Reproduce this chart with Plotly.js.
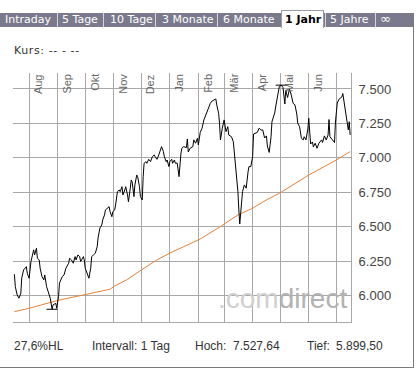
<!DOCTYPE html>
<html>
<head>
<meta charset="utf-8">
<script src="https://cdn.plot.ly/plotly-3.0.1.min.js"></script>
<style>
  body { margin: 0; background: #fff; }
  #wrap { position: relative; width: 418px; height: 370px; overflow: hidden; background: #fff; }
  #chart { position: absolute; left: 0; top: 0; width: 418px; height: 370px; z-index: 1; }
  .o { position: absolute; z-index: 5; white-space: pre; }
  .tabbar { left: 0; top: 13px; width: 414px; height: 14px; background: #7a7a8c; }
  .tab { top: 13px; height: 14px; line-height: 14px; font-family: "DejaVu Sans", sans-serif; font-size: 11px; color: #fff; }
  .sep { top: 13px; width: 1px; height: 14px; background: #d6d6de; }
  .sel { left: 281px; top: 10px; width: 43px; height: 18px; box-sizing: border-box; background: #fff;
         border: 1px solid #9a9aa8; border-bottom: none; }
  .txt { font-family: "Liberation Sans", Arial, sans-serif; font-size: 12px; line-height: 14px; color: #333; }
</style>
</head>
<body>
<div id="wrap">
  <div id="chart"></div>
</div>
<script>
// ---------- data ----------
const datum = [
 '2010-07-16','2010-07-17','2010-07-19','2010-07-21','2010-07-23','2010-07-24','2010-07-26','2010-07-29','2010-07-30',
 '2010-08-01','2010-08-03','2010-08-04','2010-08-06','2010-08-07','2010-08-09','2010-08-10','2010-08-12','2010-08-13',
 '2010-08-15','2010-08-17','2010-08-18','2010-08-20','2010-08-22','2010-08-24','2010-08-26','2010-08-27','2010-08-30','2010-08-31',
 '2010-09-02','2010-09-03','2010-09-06','2010-09-08','2010-09-10','2010-09-13','2010-09-14','2010-09-16','2010-09-18',
 '2010-09-20','2010-09-21','2010-09-23','2010-09-25','2010-09-26','2010-09-29','2010-09-30',
 '2010-10-01','2010-10-04','2010-10-05','2010-10-07','2010-10-08','2010-10-10','2010-10-12','2010-10-14','2010-10-15',
 '2010-10-17','2010-10-19','2010-10-20','2010-10-22','2010-10-23','2010-10-25','2010-10-27','2010-10-28','2010-10-30','2010-10-31',
 '2010-11-02','2010-11-03','2010-11-04','2010-11-05','2010-11-07','2010-11-08','2010-11-10','2010-11-11','2010-11-13',
 '2010-11-14','2010-11-16','2010-11-17','2010-11-19','2010-11-20','2010-11-21','2010-11-23','2010-11-24','2010-11-26',
 '2010-11-27','2010-11-29','2010-11-30',
 '2010-12-02','2010-12-03','2010-12-04','2010-12-06','2010-12-07','2010-12-09','2010-12-11','2010-12-13','2010-12-15',
 '2010-12-16','2010-12-18','2010-12-20','2010-12-22','2010-12-23','2010-12-25','2010-12-26','2010-12-28','2010-12-29','2010-12-31',
 '2011-01-01','2011-01-03','2011-01-04','2011-01-06','2011-01-07','2011-01-09','2011-01-11','2011-01-13','2011-01-14',
 '2011-01-16','2011-01-19','2011-01-20','2011-01-21','2011-01-23','2011-01-26','2011-01-27','2011-01-29','2011-01-31',
 '2011-02-01','2011-02-03','2011-02-05','2011-02-07','2011-02-10','2011-02-12','2011-02-14','2011-02-16','2011-02-19',
 '2011-02-20','2011-02-21','2011-02-23','2011-02-24','2011-02-25','2011-02-27','2011-02-28',
 '2011-03-01','2011-03-03','2011-03-05','2011-03-06','2011-03-09','2011-03-11','2011-03-12','2011-03-14','2011-03-15',
 '2011-03-16','2011-03-17','2011-03-18','2011-03-19','2011-03-20','2011-03-21','2011-03-23','2011-03-25','2011-03-27',
 '2011-03-28','2011-03-30',
 '2011-04-01','2011-04-02','2011-04-04','2011-04-06','2011-04-08','2011-04-10','2011-04-12','2011-04-14','2011-04-16',
 '2011-04-17','2011-04-19','2011-04-21','2011-04-22','2011-04-25','2011-04-26','2011-04-28','2011-04-30',
 '2011-05-02','2011-05-04','2011-05-06','2011-05-07','2011-05-09','2011-05-11','2011-05-13','2011-05-15','2011-05-17',
 '2011-05-19','2011-05-20','2011-05-22','2011-05-24','2011-05-26','2011-05-27','2011-05-29','2011-05-31',
 '2011-06-01','2011-06-03','2011-06-05','2011-06-06','2011-06-08','2011-06-10','2011-06-12','2011-06-15','2011-06-16',
 '2011-06-18','2011-06-20','2011-06-22','2011-06-23','2011-06-24','2011-06-27','2011-06-29','2011-06-30',
 '2011-07-02','2011-07-04','2011-07-07','2011-07-08','2011-07-10','2011-07-12','2011-07-14','2011-07-15','2011-07-16'
];
const kurs = [
 6154,6064,6004,5980,6016,6127,6185,6209,6161,
 6125,6246,6282,6331,6294,6343,6270,6258,6198,
 6137,6113,6149,6064,6028,5980,5899.5,5931,5943,5907,
 5991,6089,6137,6149,6198,6234,6270,6258,6234,
 6282,6258,6294,6282,6246,6282,6258,
 6198,6149,6125,6198,6282,6294,6307,6354,6418,
 6490,6512,6548,6585,6621,6633,6645,6609,6572,6609,
 6621,6657,6694,6754,6766,6754,6790,6730,6766,
 6790,6730,6681,6779,6839,6827,6718,6803,6875,
 6863,6790,6718,
 6694,6863,6960,6972,6960,6989,6972,7008,7021,
 7008,6989,7021,7069,7081,7045,7008,6972,6984,6936,
 6972,6989,6960,6984,6960,6962,6863,7028,7069,
 7081,7074,7137,7042,7069,7081,7130,7106,7142,
 7093,7184,7215,7275,7333,7360,7396,7413,7420,
 7427,7384,7323,7251,7130,7215,7262,
 7275,7190,7226,7166,7153,7117,7045,6948,6851,
 6754,6621,6519,6597,6657,6754,6803,6779,6897,
 6936,6936,
 7008,7173,7178,7184,7215,7202,7202,7144,7159,
 7086,7039,7153,7262,7326,7369,7442,7518,
 7527.64,7511,7391,7489,7438,7500,7456,7396,7384,
 7318,7251,7226,7142,7130,7153,7130,7209,
 7287,7100,7115,7079,7106,7069,7106,7130,7111,
 7159,7130,7166,7278,7153,7126,7111,7260,
 7398,7427,7442,7467,7380,7271,7202,7262,7166
];
// 200-Tage-Linie
const gdDatum = ['2010-07-16','2010-08-01','2010-09-02','2010-10-01','2010-10-28','2010-11-02','2010-11-15','2010-12-01',
 '2010-12-18','2011-01-02','2011-02-03','2011-02-25','2011-03-16','2011-04-01','2011-04-16','2011-04-30','2011-06-01',
 '2011-07-01','2011-07-16'];
const gd200 = [5882,5907,5965,6006,6045,6069,6113,6185,6258,6311,6410,6500,6585,6633,6694,6742,6875,6984,7045];

const monate = ['Aug','Sep','Okt','Nov','Dez','Jan','Feb','Mär','Apr','Mai','Jun'];
const monatsStart = ['2010-08-01','2010-09-01','2010-10-01','2010-11-01','2010-12-01','2011-01-01','2011-02-01',
 '2011-03-01','2011-04-01','2011-05-01','2011-06-01'];
const yTicks = [6000,6250,6500,6750,7000,7250,7500];
const hoch = 7527.64, hochDatum = '2011-05-02';
const tief = 5899.50, tiefDatum = '2010-08-26';
const tabs = ['Intraday','5 Tage','10 Tage','3 Monate','6 Monate','1 Jahr','5 Jahre','\u221E'];
const aktiverTab = '1 Jahr';
const intervall = 'Intervall: 1 Tag';

// ---------- helpers ----------
function shiftDay(s, d) {
  const t = new Date(s + 'T00:00:00Z').getTime() + d * 86400000;
  return new Date(t).toISOString().slice(0, 19).replace('T', ' ');
}
function fmtDe(v) {
  let parts = v.toFixed(2).split('.');
  let i = parts[0].replace(/\B(?=(\d{3})+(?!\d))/g, '.');
  return i + ',' + parts[1];
}

// ---------- page chrome ----------
const wrap = document.getElementById('wrap');
function el(cls, css, text) {
  const d = document.createElement('div');
  d.className = 'o ' + cls;
  Object.assign(d.style, css);
  if (text !== undefined) d.textContent = text;
  wrap.appendChild(d);
  return d;
}
el('tabbar', {});
const tabLeft = [5, 62, 110, 162, 223, 285, 330, 380];
const sepLeft = [57, 103, 155, 217, 325, 375];
sepLeft.forEach(x => el('sep', {left: x + 'px'}));
el('sel', {});
tabs.forEach((t, i) => {
  const d = el('tab', {left: tabLeft[i] + 'px'}, t);
  if (t === aktiverTab) { d.style.color = '#000'; d.style.fontWeight = 'bold'; }
  if (t === '\u221E') { d.style.fontSize = '13px'; d.style.top = '12px'; }
});
// panel border
el('', {left: '413px', top: '27px', width: '1px', height: '341px', background: '#7a7a7a'});
el('', {left: '0px', top: '367px', width: '414px', height: '1px', background: '#7a7a7a'});
el('txt', {left: '14px', top: '44px', fontFamily: '"DejaVu Sans", sans-serif', fontSize: '11px', letterSpacing: '0.6px'}, 'Kurs: -- - --');

const hl = ((hoch - tief) / tief * 100).toFixed(1).replace('.', ',') + '%HL';
el('txt', {left: '14px', top: '339px'}, hl);
el('txt', {left: '92px', top: '339px'}, intervall);
el('txt', {left: '195px', top: '339px'}, 'Hoch:');
el('txt', {left: '233px', top: '339px'}, fmtDe(hoch));
el('txt', {left: '307px', top: '339px'}, 'Tief:');
el('txt', {left: '336px', top: '339px'}, fmtDe(tief));

// ---------- chart ----------
const traces = [
  {x: gdDatum, y: gd200, type: 'scatter', mode: 'lines', line: {color: '#e8823a', width: 1}, hoverinfo: 'skip'},
  {x: datum, y: kurs, type: 'scatter', mode: 'lines', line: {color: '#000', width: 1}, hoverinfo: 'skip'},
  {x: [shiftDay(tiefDatum, -6), shiftDay(tiefDatum, 6)], y: [tief, tief], type: 'scatter', mode: 'lines',
   line: {color: '#000', width: 1}, hoverinfo: 'skip'},
  {x: [shiftDay(hochDatum, -6), shiftDay(hochDatum, 6)], y: [hoch, hoch], type: 'scatter', mode: 'lines',
   line: {color: '#000', width: 1}, hoverinfo: 'skip'}
];

const annotations = monate.map((m, i) => ({
  x: monatsStart[i], xref: 'x', y: 1, yref: 'paper', xanchor: 'left', yanchor: 'top',
  textangle: -90, text: m, showarrow: false, borderpad: 0, xshift: 2,
  font: {family: 'Liberation Sans, Arial, sans-serif', size: 11, color: '#666'}
}));
annotations.push({
  x: 0.6036, xref: 'paper', y: 0.028, yref: 'paper', xanchor: 'left', yanchor: 'bottom',
  text: '<span style="color:#d0d0d0">.com</span><span style="color:#b2b2b2">direct</span>',
  showarrow: false, borderpad: 0,
  font: {family: 'Liberation Sans, Arial, sans-serif', size: 28, color: '#bbb'}
});

const layout = {
  width: 418, height: 370,
  margin: {l: 13, r: 67, t: 73, b: 48, pad: 0},
  paper_bgcolor: 'rgba(0,0,0,0)', plot_bgcolor: 'rgba(0,0,0,0)',
  separators: ',.',
  showlegend: false,
  xaxis: {
    type: 'date', range: ['2010-07-14 12:00', '2011-07-16 22:00'],
    tick0: '2010-08-01', dtick: 'M1', showticklabels: false, ticks: '',
    showgrid: true, gridcolor: '#a8a8a8', gridwidth: 1,
    showline: true, linecolor: '#a8a8a8', linewidth: 1, zeroline: false, fixedrange: true
  },
  yaxis: {
    side: 'right', range: [5807, 7616], tickvals: yTicks, tickformat: ',.0f',
    showgrid: true, gridcolor: '#a8a8a8', gridwidth: 1,
    showline: true, linecolor: '#a8a8a8', linewidth: 1, ticks: '', zeroline: false,
    ticklabelstandoff: 4,
    tickfont: {family: 'Liberation Sans, Arial, sans-serif', size: 13, color: '#444'}
  },
  annotations: annotations
};

Plotly.newPlot('chart', traces, layout, {staticPlot: true, displayModeBar: false});
</script>
</body>
</html>
